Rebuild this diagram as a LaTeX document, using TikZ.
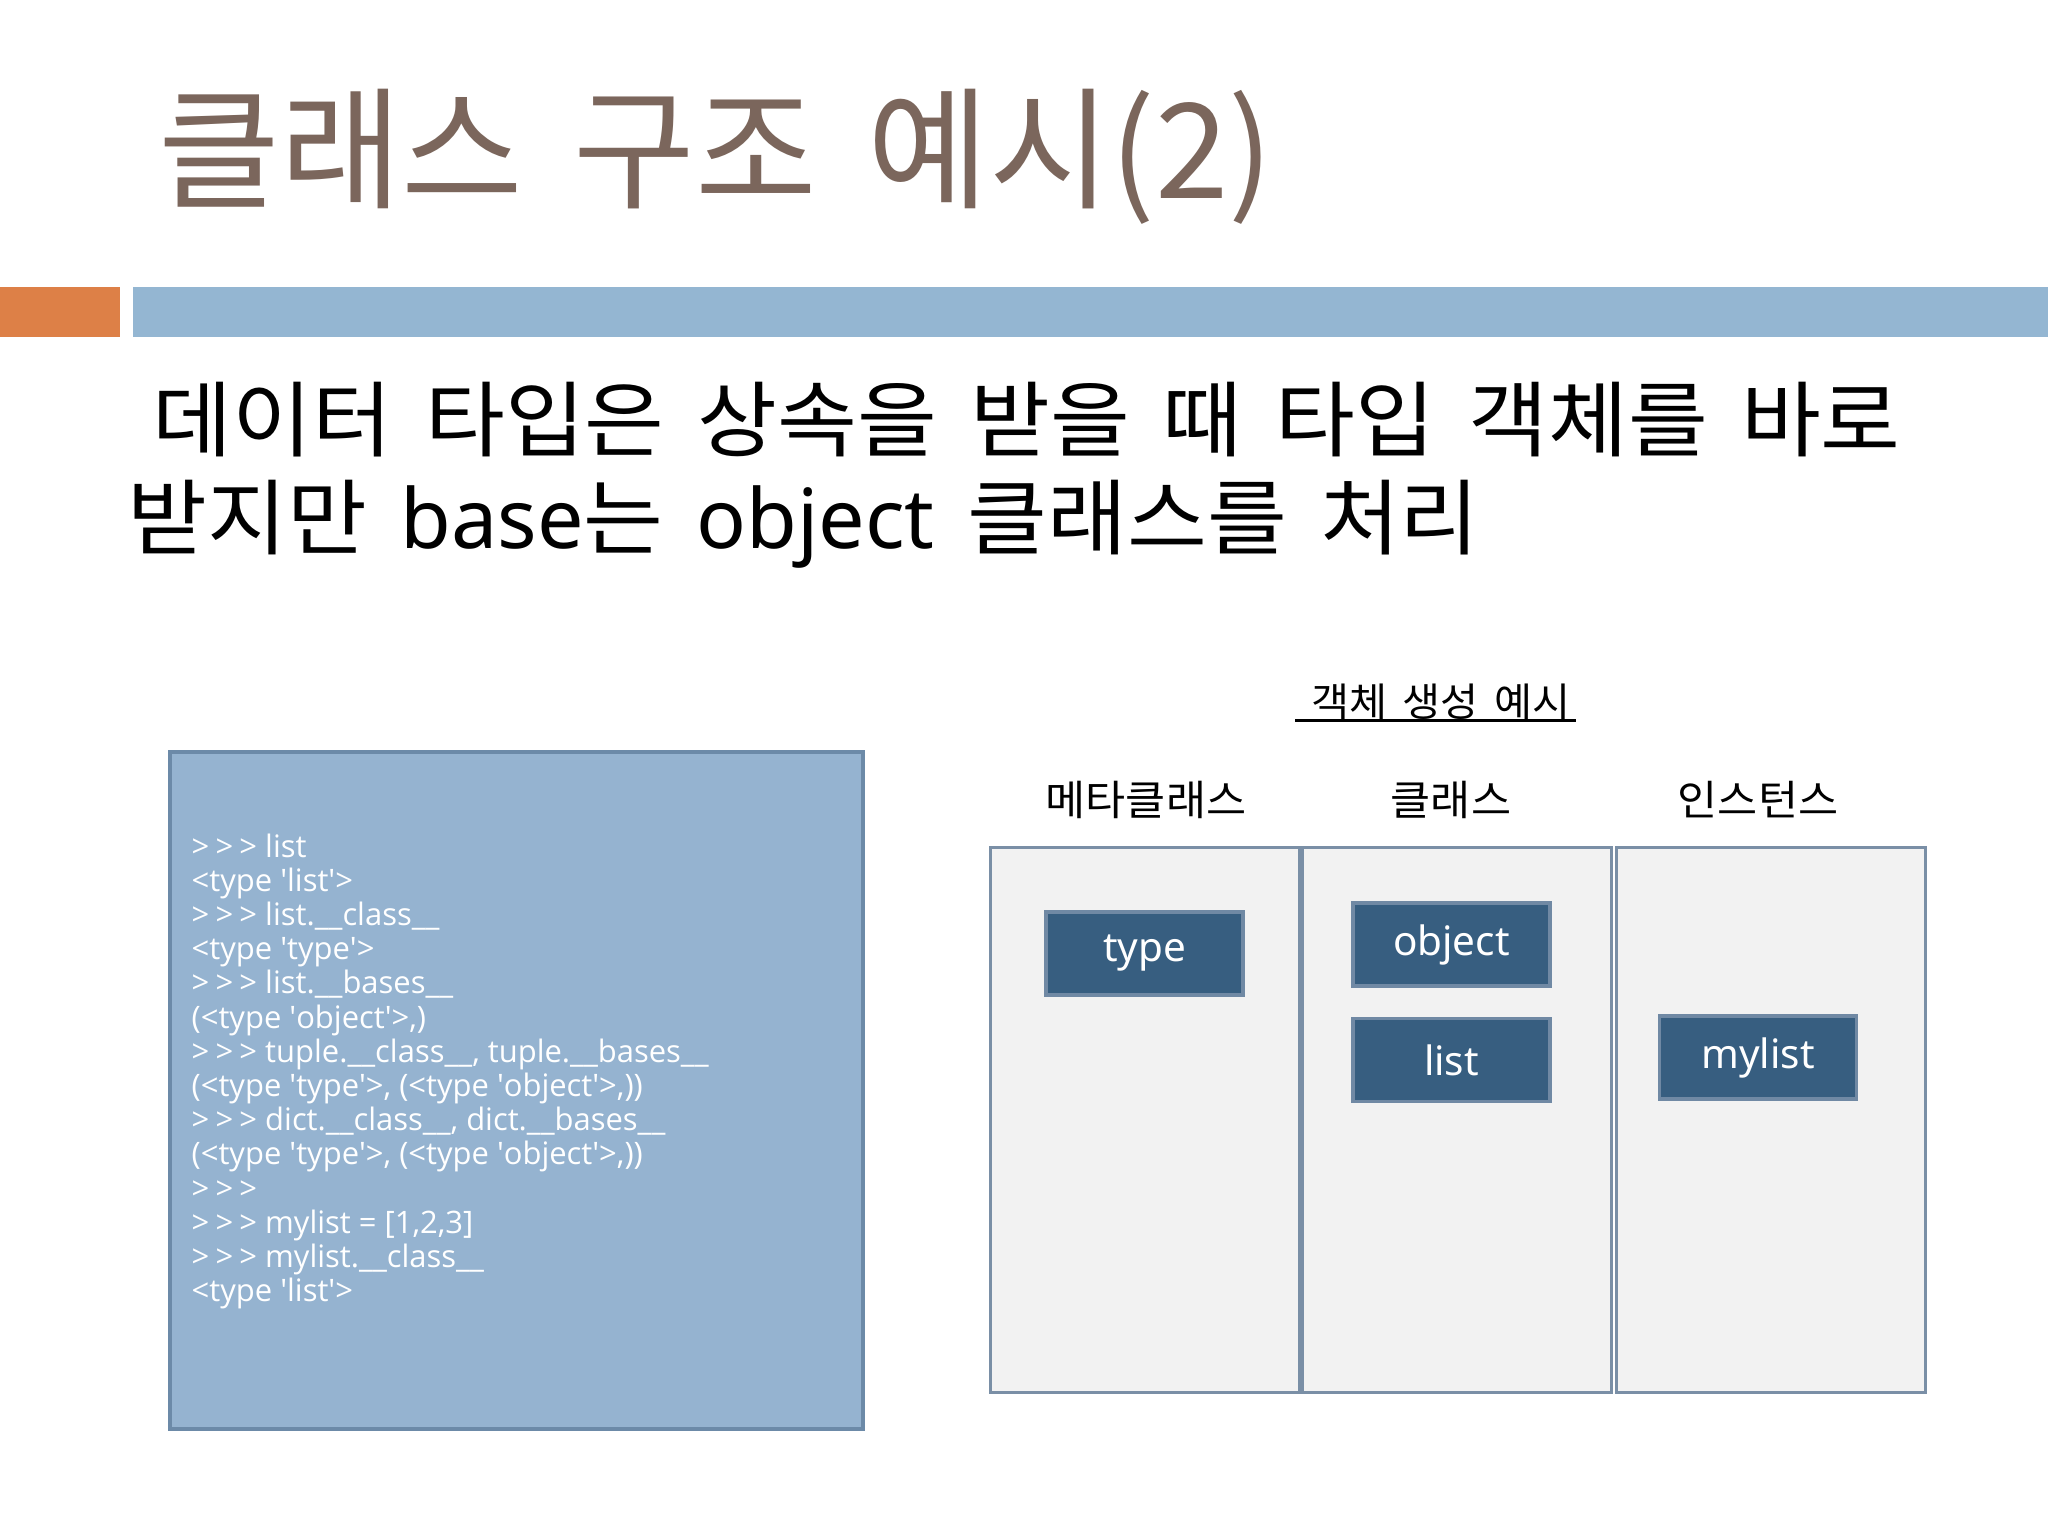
\documentclass[tikz,border=0pt]{standalone}
\usepackage{fontspec}
\setmainfont[WordSpace=1.7, FakeStretch=1.05]{Noto Sans CJK KR}
\newfontfamily\titlefont[WordSpace=1.7]{Noto Sans CJK KR}
\newfontfamily\latinfont{Noto Sans}
\newfontfamily\codefont{Open Sans}
\newcommand\q{\textquotesingle}
\newcommand\prompt{>\kern0.2em>\kern0.2em>}
\definecolor{titlebrown}{HTML}{7B665C}
\definecolor{accentorange}{HTML}{DD8047}
\definecolor{accentblue}{HTML}{94B6D2}
\definecolor{codefill}{HTML}{95B3D0}
\definecolor{codeframe}{HTML}{6C8AA8}
\definecolor{colfill}{HTML}{F2F2F2}
\definecolor{colframe}{HTML}{7A8FA6}
\definecolor{boxfill}{HTML}{375E80}
\definecolor{boxframe}{HTML}{7089A4}
\tikzset{
  colbox/.style={draw=colframe, fill=colfill, line width=0.03cm, minimum width=3.08cm, minimum height=5.44cm},
  classbox/.style={draw=boxframe, fill=boxfill, line width=0.035cm, minimum width=1.97cm, minimum height=0.83cm,
    text=white, font=\latinfont\fontsize{11.5}{14}\selectfont},
  colhead/.style={font=\fontsize{11.8}{14}\selectfont},
  bodyline/.style={anchor=base west, inner sep=0, font=\fontsize{23.5}{28}\selectfont},
  codeline/.style={anchor=base west, inner sep=0, text=white, font=\codefont\fontsize{8.8}{10}\selectfont}
}
\begin{document}
\begin{tikzpicture}[x=0.01cm, y=-0.01cm]
  \useasboundingbox (0,0) rectangle (2048,1536);
  \fill[white] (0,0) rectangle (2048,1536);
  \node[anchor=base west, inner sep=0, text=titlebrown, font=\titlefont\fontsize{37.6}{42}\selectfont] (title) at (158,198) {클래스 구조 예시(2)};
  \fill[accentorange] (0,287) rectangle (120,337);
  \fill[accentblue] (133,287) rectangle (2048,337);
  \node[bodyline] (line1) at (152,450) {데이터 타입은 상속을 받을 때 타입 객체를 바로};
  \node[bodyline] (line2) at (127,548) {받지만 {\latinfont base}는 {\latinfont object} 클래스를 처리};
  % python session
  \node[draw=codeframe, fill=codefill, line width=0.035cm, minimum width=6.93cm, minimum height=6.77cm] (codebox) at (516.5,1090.5) {};
  \foreach \codetxt [count=\i from 0] in {
    {\prompt\ list},
    {<type \q list\q>},
    {\prompt\ list.\_\_class\_\_},
    {<type \q type\q>},
    {\prompt\ list.\_\_bases\_\_},
    {(<type \q object\q>,)},
    {\prompt\ tuple.\_\_class\_\_, tuple.\_\_bases\_\_},
    {(<type \q type\q>, (<type \q object\q>,))},
    {\prompt\ dict.\_\_class\_\_, dict.\_\_bases\_\_},
    {(<type \q type\q>, (<type \q object\q>,))},
    {\prompt},
    {\prompt\ mylist = [1,2,3]},
    {\prompt\ mylist.\_\_class\_\_},
    {<type \q list\q>}}
    \node[codeline] (code\i) at (191,{857+34.2*\i}) {\codetxt};
  % object creation example
  \node[font=\fontsize{11.2}{13}\selectfont, inner sep=0] (example) at (1441,702) {객체 생성 예시};
  \draw[line width=0.025cm] ([xshift=-0.15cm]example.south west) -- ([xshift=0.04cm]example.south east);
  \node[colhead] (metahead) at (1146,800) {메타클래스};
  \node[colhead] (classhead) at (1451,800) {클래스};
  \node[colhead] (insthead) at (1758,800) {인스턴스};
  \node[colbox] (metacol) at (1145,1120) {};
  \node[colbox] (classcol) at (1457,1120) {};
  \node[colbox] (instcol) at (1771,1120) {};
  \node[classbox] (type) at (1144.5,953.5) {type};
  \node[classbox] (object) at (1451.5,944.5) {object};
  \node[classbox] (list) at (1451.5,1060) {list};
  \node[classbox] (mylist) at (1758,1057.5) {mylist};
\end{tikzpicture}
\end{document}
